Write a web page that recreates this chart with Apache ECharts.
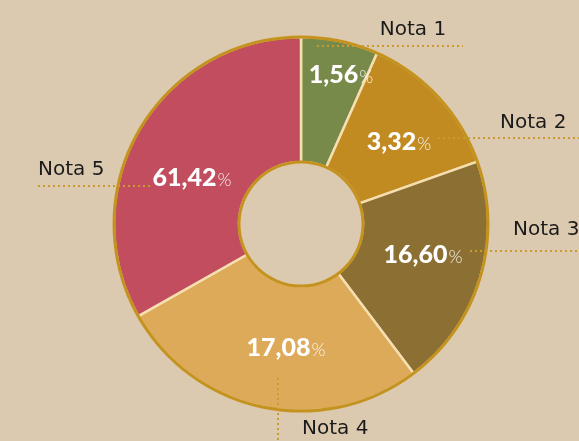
<!DOCTYPE html>
<html>
<head>
<meta charset="utf-8">
<script src="https://cdn.jsdelivr.net/npm/echarts@6/dist/echarts.min.js"></script>
<style>
html,body{margin:0;padding:0;background:#dccab0;}
#chart{width:579px;height:441px;}
</style>
</head>
<body>
<div id="chart"></div>
<script>
// ---- data ----
const categories = ['Nota 1', 'Nota 2', 'Nota 3', 'Nota 4', 'Nota 5'];
// slice sizes as drawn in the picture (angular share)
const sliceValues = [24, 46.5, 72.5, 97.5, 119.5];
// printed percentage labels
const percentLabels = ['1,56', '3,32', '16,60', '17,08', '61,42'];

// ---- styling / layout (not data) ----
const sliceColors = ['#788a4a', '#c18b22', '#8c6f33', '#dcaa58', '#c14d5e'];
const CX = 301, CY = 224, R_IN = 62, R_OUT = 187;
const percentPos = [[341, 73], [399, 140], [423, 253], [286, 346], [192, 176]];
const namePos = [
  {x: 413, y: 30, align: 'center'},
  {x: 500, y: 123, align: 'left'},
  {x: 513, y: 230, align: 'left'},
  {x: 302, y: 429, align: 'left'},
  {x: 38, y: 170, align: 'left'}
];
const leaderLines = [
  [[317, 46], [463, 46]],
  [[438, 138], [579, 138]],
  [[470, 251], [579, 251]],
  [[278, 378], [278, 441]],
  [[38, 186], [150, 186]]
];
const total = sliceValues.reduce((a, b) => a + b, 0);

const chart = echarts.init(document.getElementById('chart'), null, {renderer: 'canvas'});
chart.setOption({
  backgroundColor: '#dccab0',
  animation: false,
  series: [
    {
      type: 'pie',
      center: [CX, CY],
      radius: [R_IN, R_OUT],
      startAngle: 90,
      clockwise: true,
      silent: true,
      z: 2,
      itemStyle: {borderColor: '#f5dfb0', borderWidth: 2.5},
      label: {
        show: true,
        position: 'inside',
        formatter: p => '{n|' + percentLabels[p.dataIndex] + '}{p|%}',
        rich: {
          n: {fontFamily: 'Lato', fontWeight: 900, fontSize: 25, color: '#ffffff', lineHeight: 28, verticalAlign: 'bottom'},
          p: {fontFamily: 'Lato', fontWeight: 300, fontSize: 18, color: 'rgba(255,255,255,0.9)', lineHeight: 28, verticalAlign: 'bottom', padding: [0, 0, 1, 1]}
        }
      },
      labelLine: {show: false},
      labelLayout: p => ({
        x: percentPos[p.dataIndex][0],
        y: percentPos[p.dataIndex][1],
        align: 'center',
        verticalAlign: 'middle'
      }),
      data: categories.map((c, i) => ({name: c, value: sliceValues[i], itemStyle: {color: sliceColors[i]}}))
    },
    {
      type: 'pie',
      center: [CX, CY],
      radius: [R_OUT - 1.5, R_OUT + 1.5],
      silent: true,
      z: 3,
      label: {show: false},
      labelLine: {show: false},
      itemStyle: {color: '#c4921e', borderWidth: 0},
      data: [{name: 'ring', value: total}]
    },
    {
      type: 'pie',
      center: [CX, CY],
      radius: [R_IN - 1.5, R_IN + 1.5],
      silent: true,
      z: 3,
      label: {show: false},
      labelLine: {show: false},
      itemStyle: {color: '#c4921e', borderWidth: 0},
      data: [{name: 'ring', value: total}]
    },
    {
      type: 'pie',
      center: [CX, CY],
      radius: [R_IN, R_OUT],
      startAngle: 90,
      clockwise: true,
      silent: true,
      z: 4,
      avoidLabelOverlap: false,
      itemStyle: {color: 'rgba(0,0,0,0)', borderWidth: 0},
      label: {
        show: true,
        position: 'outside',
        formatter: '{b}',
        fontFamily: 'DejaVu Sans',
        fontSize: 20,
        color: '#1a1a1a'
      },
      labelLine: {
        show: true,
        lineStyle: {color: '#c99a2e', width: 2, type: [2, 3]}
      },
      labelLayout: p => ({
        x: namePos[p.dataIndex].x,
        y: namePos[p.dataIndex].y,
        align: namePos[p.dataIndex].align,
        verticalAlign: 'middle',
        labelLinePoints: leaderLines[p.dataIndex]
      }),
      data: categories.map((c, i) => ({name: c, value: sliceValues[i]}))
    }
  ]
});
</script>
</body>
</html>
